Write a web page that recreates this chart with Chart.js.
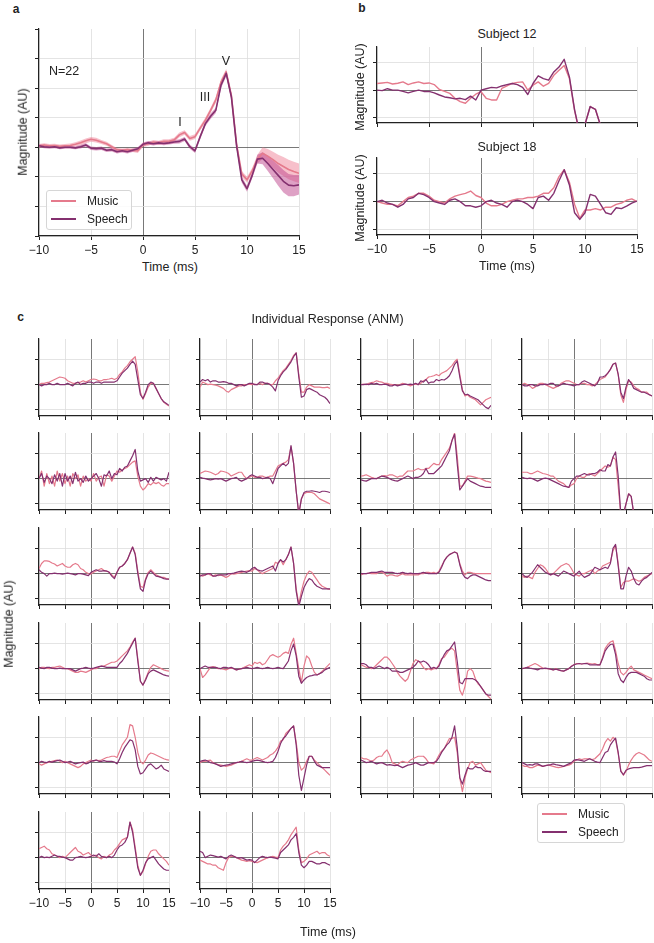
<!DOCTYPE html>
<html>
<head>
<meta charset="utf-8">
<script src="https://cdn.jsdelivr.net/npm/chart.js@4.4.0/dist/chart.umd.min.js"></script>
<style>
  body { margin: 0; background: #fff; }
  #fig { position: relative; width: 654px; height: 943px; overflow: hidden;
         font-family: "Liberation Sans", Arial, sans-serif; color: #222; background: #fff; }
  #fig canvas { position: absolute; }
  .txt { position: absolute; white-space: nowrap; line-height: 1; z-index: 5; }
  .legend { position: absolute; border: 1px solid #d6d6d6; border-radius: 3px;
            background: rgba(255,255,255,0.85); z-index: 6; box-sizing: border-box; }
  .legend .ln { position: absolute; height: 1.6px; }
  .legend .lt { position: absolute; font-size: 12px; line-height: 1; transform: translateY(-50%); }
</style>
</head>
<body>
<div id="fig"></div>
<script>
// ---- data (magnitude in tick units) ----
const TIMES = [-10,-9.5,-9,-8.5,-8,-7.5,-7,-6.5,-6,-5.5,-5,-4.5,-4,-3.5,-3,-2.5,-2,-1.5,-1,-0.5,
  0,0.5,1,1.5,2,2.5,3,3.5,4,4.5,5,5.5,6,6.5,7,7.5,8,8.5,9,9.5,10,10.5,11,11.5,12,12.5,13,13.5,14,14.5,15];
const X_TICKS = [-10, -5, 0, 5, 10, 15];
const A_Y_TICKS = [-3, -2, -1, 0, 1, 2, 3, 4];
const SMALL_Y_TICKS = [-1, 0, 1];
const LEGEND_LABELS = ['Music', 'Speech'];
const SUBJECT_TITLES = ['Subject 12', 'Subject 18'];
const WAVE_LABELS = ['I', 'III', 'V'];

// panel a: grand average (N=22) with SEM
const A_MUSIC = [0.05,0.08,0.05,0.06,0.03,0.05,0.06,0.10,0.15,0.22, 0.27,0.24,0.18,0.12,0.02,-0.08,-0.10,-0.08,-0.10,-0.12,
  0.08,0.12,0.18,0.15,0.20,0.20,0.25,0.42,0.50,0.30, 0.36,0.65,0.92,1.25,1.60,2.20,2.55,1.75,0.10,-0.90,
  -1.10,-0.80,-0.40,-0.20,-0.30,-0.42,-0.55,-0.65,-0.75,-0.82, -0.88];
const A_MUSIC_SEM = [0.06,0.06,0.06,0.06,0.06,0.06,0.07,0.07,0.08,0.08, 0.08,0.08,0.07,0.07,0.06,0.06,0.06,0.06,0.06,0.07,
  0.07,0.07,0.07,0.07,0.07,0.07,0.07,0.08,0.08,0.08, 0.08,0.08,0.09,0.09,0.10,0.10,0.10,0.10,0.10,0.10,
  0.10,0.10,0.15,0.20,0.24,0.27,0.30,0.32,0.33,0.33, 0.33];
const A_SPEECH = [0.05,0.02,0.00,0.02,-0.02,0.00,0.00,-0.02,0.02,0.08, -0.03,-0.05,-0.03,-0.10,-0.08,-0.15,-0.12,-0.15,-0.10,-0.05,
  0.10,0.15,0.12,0.15,0.13,0.15,0.18,0.20,0.28,0.02, -0.12,0.36,0.80,1.05,1.25,2.10,2.50,1.70,0.05,-1.10,
  -1.40,-0.95,-0.40,-0.37,-0.55,-0.75,-0.95,-1.15,-1.28,-1.30, -1.27];
const A_SPEECH_SEM = [0.05,0.05,0.05,0.05,0.05,0.05,0.05,0.05,0.06,0.06, 0.06,0.06,0.06,0.06,0.06,0.06,0.06,0.06,0.06,0.06,
  0.06,0.06,0.06,0.06,0.06,0.06,0.06,0.07,0.07,0.07, 0.07,0.08,0.08,0.09,0.09,0.10,0.10,0.10,0.10,0.10,
  0.10,0.10,0.15,0.20,0.25,0.30,0.35,0.38,0.38,0.36, 0.33];

// panel b: two example subjects
const S12_MUSIC = [0.24,0.26,0.28,0.22,0.25,0.30,0.20,0.26,0.30,0.24, 0.26,0.20,0.02,-0.05,-0.12,-0.30,-0.42,-0.48,-0.30,-0.15,
  -0.06,-0.30,-0.36,-0.36,0.06,0.15,0.24,0.28,0.30,0.00, 0.18,0.30,0.14,0.24,0.54,0.72,0.90,0.42,-0.75,-1.60,
  -1.25,-0.60,-0.70,-1.30,-1.60,-1.60,-1.60,-1.60,-1.60,-1.60, -1.60];
const S12_SPEECH = [0.00,-0.02,0.05,0.00,0.00,-0.05,-0.10,-0.05,0.00,-0.05, -0.05,-0.10,-0.18,-0.25,-0.28,-0.32,-0.30,-0.35,-0.22,-0.36,
  0.00,0.05,0.10,0.08,0.15,0.20,0.24,0.20,0.10,-0.16, 0.24,0.52,0.42,0.36,0.66,0.84,1.12,0.48,-0.72,-1.60,
  -1.25,-0.60,-0.70,-1.30,-1.60,-1.60,-1.60,-1.60,-1.60,-1.60, -1.60];
const S18_MUSIC = [0.00,-0.05,-0.10,-0.10,-0.15,0.00,0.15,0.20,0.30,0.30, 0.20,0.05,0.00,-0.05,0.10,0.20,0.25,0.30,0.38,0.22,
  0.15,-0.05,-0.15,-0.15,-0.10,0.00,0.05,0.10,0.10,0.15, 0.15,0.20,0.30,0.30,0.50,0.90,1.15,0.70,-0.10,-0.60,
  -0.30,-0.30,-0.25,-0.30,-0.20,-0.20,-0.10,-0.05,0.05,0.10, 0.00];
const S18_SPEECH = [0.00,0.05,-0.05,-0.10,-0.20,-0.10,0.10,0.15,0.30,0.25, 0.15,0.00,-0.05,-0.10,0.05,0.10,0.00,-0.15,-0.15,-0.20,
  -0.15,0.00,0.05,-0.05,-0.10,-0.20,0.00,0.05,0.00,-0.10, -0.25,0.15,0.20,0.05,0.30,0.75,1.15,0.60,-0.40,-0.64,
  -0.40,0.26,0.20,-0.10,-0.40,-0.46,-0.22,-0.25,-0.16,-0.05, 0.02];

// panel c: 22 individual responses, row by row
const C01_MUSIC = [0.00,0.05,0.05,0.08,0.10,0.15,0.20,0.25,0.30,0.28, 0.25,0.15,0.10,0.05,0.05,0.08,0.10,0.15,0.10,0.15, 0.20,0.22,0.20,0.15,0.15,0.20,0.20,0.22,0.25,0.20, 0.25,0.40,0.50,0.65,0.75,0.90,1.00,1.10,0.50,-0.30, -0.58,-0.35,-0.10,0.05,0.05,-0.15,-0.35,-0.55,-0.70,-0.78, -0.85];
const C01_SPEECH = [0.00,-0.05,0.00,0.00,0.05,0.00,0.00,0.05,0.00,0.00, 0.00,0.05,0.00,-0.05,0.05,0.10,0.00,0.05,0.05,0.10, 0.10,0.05,0.10,0.10,0.05,0.10,0.10,0.10,0.10,0.10, 0.15,0.30,0.45,0.55,0.65,0.80,0.93,0.80,0.20,-0.40, -0.55,-0.30,0.00,0.10,0.05,-0.15,-0.35,-0.55,-0.68,-0.75, -0.82];
const C02_MUSIC = [-0.10,0.10,0.05,0.00,0.02,0.00,-0.02,-0.05,-0.10,-0.15, -0.25,-0.30,-0.20,-0.15,-0.10,-0.05,-0.05,0.00,0.00,0.02, 0.00,0.02,0.00,0.05,0.00,0.05,0.05,0.00,0.00,0.15, 0.25,0.40,0.55,0.65,0.80,0.95,1.15,1.25,0.40,-0.30, -0.30,-0.10,0.00,-0.05,-0.10,-0.10,-0.10,-0.12,-0.12,-0.10, -0.15];
const C02_SPEECH = [0.10,0.20,0.15,0.20,0.10,0.15,0.15,0.10,0.10,0.12, 0.10,0.05,0.05,0.00,-0.05,0.00,0.00,-0.05,0.00,0.05, 0.05,0.00,0.00,0.10,0.10,0.05,0.05,0.00,-0.10,-0.25, 0.15,0.35,0.50,0.60,0.75,0.90,1.10,1.25,0.30,-0.50, -0.45,-0.20,-0.15,-0.20,-0.25,-0.30,-0.40,-0.45,-0.50,-0.60, -0.75];
const C03_MUSIC = [0.00,0.02,0.00,0.05,0.08,0.10,0.15,0.12,0.10,0.05, 0.05,0.02,0.00,0.00,-0.02,0.00,0.05,0.02,0.00,-0.05, 0.00,0.02,0.00,0.05,0.15,0.20,0.30,0.32,0.35,0.40, 0.35,0.45,0.50,0.55,0.65,0.75,0.90,1.00,0.40,-0.20, -0.45,-0.40,-0.50,-0.55,-0.60,-0.70,-0.80,-0.70,-0.60,-0.55, -0.50];
const C03_SPEECH = [0.00,0.00,0.02,0.00,0.05,0.02,0.05,0.00,0.00,0.02, 0.00,-0.05,-0.05,0.00,-0.05,-0.02,0.00,0.02,0.00,0.02, 0.00,0.05,0.00,0.15,0.10,0.20,0.05,0.10,0.10,0.20, 0.15,0.20,0.18,0.25,0.35,0.55,0.80,0.93,0.30,-0.25, -0.40,-0.38,-0.45,-0.50,-0.55,-0.60,-0.70,-0.80,-0.90,-0.95, -0.82];
const C04_MUSIC = [0.00,0.05,0.00,-0.05,-0.15,-0.10,0.00,0.05,0.05,0.00, -0.05,-0.10,-0.15,-0.10,-0.05,0.05,0.10,0.15,0.15,0.10, 0.05,0.00,0.00,0.05,0.05,0.00,0.00,-0.05,0.00,0.10, 0.20,0.25,0.30,0.45,0.60,0.80,0.85,0.40,-0.40,-0.70, -0.20,0.15,0.10,-0.05,-0.15,-0.20,-0.30,-0.30,-0.30,-0.40, -0.45];
const C04_SPEECH = [0.00,-0.05,-0.05,0.00,0.00,-0.05,-0.05,0.00,0.00,0.02, 0.00,0.05,0.05,-0.05,-0.05,0.00,0.05,0.02,0.00,-0.02, -0.05,0.00,0.00,0.10,0.15,0.10,0.05,0.00,-0.05,0.05, 0.30,0.30,0.35,0.45,0.60,0.80,0.85,0.40,-0.30,-0.55, -0.10,0.20,0.05,-0.15,-0.20,-0.25,-0.30,-0.30,-0.35,-0.40, -0.45];
const C05_MUSIC = [0.00,0.30,-0.30,0.20,-0.20,0.10,-0.30,0.30,-0.10,0.20, -0.20,0.10,-0.30,0.20,0.00,0.15,-0.30,0.10,-0.10,0.00, -0.10,0.20,-0.10,0.05,0.10,-0.30,0.15,0.10,-0.10,0.10, 0.30,0.25,0.35,0.40,0.45,0.55,0.65,0.70,0.10,-0.30, -0.45,-0.35,-0.20,-0.25,-0.15,-0.20,-0.15,-0.25,-0.30,-0.20, -0.20];
const C05_SPEECH = [0.00,0.20,-0.15,0.10,0.00,-0.20,0.15,-0.10,0.20,-0.30, 0.20,-0.10,0.10,-0.20,0.25,-0.10,0.00,-0.15,0.10,-0.10, 0.00,0.10,0.20,0.00,-0.30,0.15,0.10,0.30,0.00,0.20, 0.15,0.40,0.30,0.45,0.50,0.70,0.90,1.15,0.30,-0.10, -0.05,0.00,-0.15,0.05,-0.10,0.05,0.00,-0.05,0.00,-0.10, 0.25];
const C06_MUSIC = [0.20,0.25,0.30,0.28,0.25,0.20,0.15,0.20,0.30,0.28, 0.25,0.20,0.10,0.15,0.20,0.25,0.25,0.10,0.00,0.05, 0.10,0.05,0.05,0.10,0.10,0.05,0.05,0.10,0.10,0.30, 0.50,0.55,0.60,0.65,0.75,1.25,0.60,-0.50,-1.40,-0.80, -0.60,-0.55,-0.55,-0.55,-0.60,-0.70,-0.80,-0.85,-0.90,-0.95, -1.00];
const C06_SPEECH = [0.05,0.02,0.00,-0.03,-0.05,-0.03,0.00,-0.02,0.00,-0.05, -0.10,-0.05,0.00,0.02,0.05,-0.05,-0.10,-0.05,0.00,0.10, 0.15,0.10,0.05,0.05,0.00,0.02,0.05,0.00,-0.20,0.10, 0.40,0.50,0.60,0.50,0.60,1.30,0.60,-0.50,-1.40,-0.80, -0.55,-0.50,-0.50,-0.48,-0.50,-0.52,-0.55,-0.50,-0.50,-0.52, -0.55];
const C07_MUSIC = [0.10,0.12,0.15,0.10,0.05,0.02,0.00,0.05,0.10,0.12, 0.10,0.15,0.15,0.10,0.05,0.10,0.10,0.20,0.30,0.30, 0.30,0.35,0.40,0.35,0.35,0.40,0.40,0.50,0.60,0.55, 0.55,0.75,0.90,1.05,1.20,1.50,1.80,0.90,-0.30,-0.30, -0.10,0.10,0.10,0.08,0.05,0.02,0.00,-0.05,-0.10,-0.12, -0.15];
const C07_SPEECH = [-0.05,-0.08,-0.10,-0.05,0.00,0.00,0.00,0.05,0.10,0.08, 0.05,0.00,-0.05,-0.08,-0.10,-0.05,0.00,0.05,0.10,0.05, 0.00,0.05,0.05,0.10,0.20,0.40,0.20,0.20,0.20,0.30, 0.40,0.50,0.70,0.90,1.10,1.50,1.75,0.60,-0.45,-0.30, -0.15,0.00,-0.10,-0.15,-0.20,-0.25,-0.30,-0.32,-0.35,-0.35, -0.35];
const C08_MUSIC = [0.25,0.25,0.25,0.20,0.20,0.25,0.30,0.25,0.20,0.18, 0.15,0.10,0.10,0.00,-0.10,-0.15,-0.20,-0.30,-0.35,-0.25, -0.20,0.00,0.10,0.05,0.05,0.15,0.20,0.15,0.10,0.20, 0.30,0.40,0.50,0.45,0.50,0.85,0.75,-0.30,-1.40,-1.40, -1.00,-0.60,-0.70,-1.40,-1.50,-1.50,-1.50,-1.50,-1.50,-1.50, -1.50];
const C08_SPEECH = [0.05,0.02,0.00,0.02,0.00,-0.05,-0.10,-0.05,0.00,0.02, 0.00,-0.05,-0.10,-0.15,-0.20,-0.25,-0.30,-0.32,-0.35,-0.10, 0.00,0.10,0.10,0.15,0.20,0.15,0.15,0.20,0.20,0.25, 0.35,0.30,0.30,0.55,0.50,0.85,1.05,0.10,-1.40,-1.40, -1.00,-0.60,-0.70,-1.40,-1.50,-1.50,-1.50,-1.50,-1.50,-1.50, -1.50];
const C09_MUSIC = [0.20,0.40,0.50,0.50,0.48,0.42,0.38,0.30,0.35,0.40, 0.30,0.25,0.25,0.35,0.40,0.35,0.20,0.15,0.05,0.00, -0.02,0.05,0.10,0.15,0.20,0.12,0.10,0.05,-0.05,-0.15, 0.05,0.25,0.30,0.40,0.55,0.80,1.05,0.80,0.10,-0.50, -0.55,-0.20,0.05,0.15,0.05,-0.05,-0.10,-0.15,-0.15,-0.20, -0.22];
const C09_SPEECH = [0.15,0.05,0.00,-0.10,0.00,0.00,0.02,0.00,0.00,-0.02, 0.00,0.02,0.00,-0.02,-0.05,0.00,0.00,-0.02,-0.05,-0.08, 0.05,0.10,0.15,0.10,0.10,0.12,0.10,0.05,-0.10,-0.20, 0.05,0.25,0.30,0.40,0.55,0.80,1.05,0.75,0.00,-0.60, -0.70,-0.25,0.00,0.10,0.00,-0.10,-0.12,-0.15,-0.20,-0.22, -0.22];
const C10_MUSIC = [-0.05,-0.10,-0.05,0.00,-0.05,-0.10,-0.05,-0.08,-0.05,-0.10, -0.15,-0.10,0.00,-0.02,0.00,0.02,0.05,0.08,0.10,0.12, 0.10,0.20,0.15,0.05,0.00,0.05,0.10,0.15,0.20,0.45, 0.40,0.55,0.35,0.55,0.75,1.05,0.40,-0.60,-1.20,-0.70, -0.30,-0.05,0.10,0.05,-0.10,-0.25,-0.40,-0.50,-0.55,-0.60, -0.62];
const C10_SPEECH = [-0.10,-0.05,-0.05,0.00,0.00,-0.10,-0.10,-0.05,-0.05,-0.05, -0.05,0.00,0.00,0.02,0.05,0.08,0.10,0.08,0.05,0.10, 0.20,0.25,0.15,0.12,0.10,0.15,0.20,0.25,0.30,0.10, 0.40,0.55,0.45,0.55,0.75,1.05,0.40,-0.70,-1.30,-0.90, -0.55,-0.35,-0.20,-0.25,-0.40,-0.50,-0.55,-0.60,-0.60,-0.60, -0.60];
const C11_MUSIC = [-0.05,0.00,0.00,0.02,0.00,0.00,0.00,0.05,0.05,0.00, -0.10,-0.05,-0.05,-0.08,-0.10,-0.05,0.00,-0.05,-0.05,-0.05, -0.05,-0.05,-0.05,0.00,0.00,0.05,0.05,0.02,0.05,0.00, 0.10,0.30,0.50,0.65,0.75,0.80,0.85,0.80,0.40,0.10, -0.05,0.05,0.05,0.02,0.00,0.00,0.00,0.00,0.00,0.00, 0.00];
const C11_SPEECH = [0.00,0.00,0.00,0.02,0.05,0.05,0.05,0.08,0.10,0.05, 0.05,0.05,0.05,0.02,0.00,0.02,0.05,0.02,0.00,0.02, 0.00,0.00,0.00,0.02,0.05,0.02,0.00,0.00,0.00,0.00, 0.05,0.25,0.50,0.65,0.75,0.80,0.85,0.80,0.35,0.00, -0.15,-0.20,-0.10,-0.05,-0.05,-0.10,-0.15,-0.20,-0.25,-0.28, -0.28];
const C12_MUSIC = [-0.10,-0.15,-0.10,-0.15,-0.20,0.05,0.20,0.35,0.30,0.20, 0.05,-0.05,0.00,0.10,0.20,0.30,0.35,0.40,0.35,0.20, 0.00,-0.05,-0.10,0.00,0.00,0.05,0.10,0.15,0.00,0.10, 0.15,0.30,0.35,0.40,0.45,0.90,1.10,0.40,-0.55,-0.35, -0.30,-0.30,-0.25,-0.20,-0.25,-0.30,-0.25,-0.15,-0.10,-0.05, 0.00];
const C12_SPEECH = [0.00,-0.10,-0.15,-0.05,0.05,0.20,0.35,0.25,0.15,0.05, 0.00,-0.05,0.00,-0.05,-0.10,0.00,0.10,0.05,0.00,-0.05, -0.10,0.00,0.10,-0.05,-0.15,-0.10,-0.05,0.10,0.25,0.20, 0.15,0.20,0.25,0.20,0.40,1.00,1.15,0.30,-0.60,-0.60, -0.10,0.25,0.10,-0.20,-0.40,-0.45,-0.30,-0.20,-0.15,-0.05, 0.05];
const C13_MUSIC = [0.00,0.05,0.05,0.02,0.00,0.05,0.05,0.08,0.10,0.05, 0.00,0.00,-0.05,-0.10,-0.15,-0.15,-0.10,-0.12,-0.15,-0.10, -0.05,0.00,0.00,0.05,0.10,0.10,0.15,0.20,0.25,0.25, 0.30,0.40,0.50,0.60,0.70,0.85,1.05,1.20,0.40,-0.50, -0.65,-0.40,-0.15,0.05,0.15,0.10,0.05,0.00,-0.05,-0.08, -0.10];
const C13_SPEECH = [0.05,0.02,0.00,0.05,0.05,0.02,0.00,0.00,0.02,0.00, 0.00,0.00,0.00,-0.05,-0.10,-0.05,0.00,0.02,0.05,0.02, 0.00,0.02,0.05,0.08,0.10,0.08,0.05,0.05,0.05,0.05, 0.05,0.20,0.30,0.45,0.60,0.80,1.00,1.20,0.30,-0.50, -0.65,-0.45,-0.20,-0.10,-0.05,-0.10,-0.15,-0.20,-0.25,-0.28, -0.30];
const C14_MUSIC = [0.00,-0.35,-0.25,-0.10,0.05,0.08,0.05,0.00,0.00,-0.02, -0.05,0.00,0.02,0.00,-0.05,-0.02,0.00,0.05,0.10,0.15, 0.10,0.25,0.20,0.25,0.15,0.20,0.35,0.50,0.55,0.50, 0.45,0.50,0.60,0.65,0.60,0.95,1.20,0.60,0.00,-0.55, 0.10,0.50,0.40,0.10,-0.15,-0.25,-0.20,-0.10,0.00,0.10, 0.20];
const C14_SPEECH = [0.00,0.05,0.10,0.05,0.05,0.05,0.05,0.02,0.00,0.05, 0.05,0.02,0.05,0.00,-0.05,-0.02,0.00,0.02,0.05,0.02, 0.00,0.02,0.05,0.02,0.00,0.02,0.05,0.02,0.00,0.02, 0.05,0.02,0.00,0.15,0.30,0.70,0.97,0.50,-0.30,-0.58, -0.45,-0.35,-0.30,-0.28,-0.25,-0.25,-0.20,-0.15,-0.05,0.00, 0.05];
const C15_MUSIC = [0.15,0.10,0.05,0.05,0.00,0.05,0.15,0.25,0.35,0.45, 0.45,0.35,0.20,0.05,-0.15,-0.30,-0.40,-0.50,-0.40,-0.10, 0.20,0.35,0.30,0.20,0.05,-0.05,0.00,-0.05,0.00,0.00, 0.15,0.40,0.45,0.60,0.75,0.80,0.70,-0.10,-0.85,-1.05, -0.70,-0.10,0.00,-0.10,-0.40,-0.60,-0.70,-0.85,-1.00,-1.10, -1.20];
const C15_SPEECH = [0.20,0.20,0.15,0.05,0.05,0.00,0.05,0.10,0.05,0.00, 0.05,0.00,-0.10,-0.10,-0.10,-0.15,-0.15,-0.10,-0.05,0.00, 0.05,0.15,0.30,0.25,0.30,0.25,0.15,0.00,0.05,0.00, 0.10,0.35,0.55,0.70,0.75,0.90,1.05,0.30,-0.55,-0.60, -0.40,-0.40,-0.40,-0.40,-0.45,-0.55,-0.70,-0.85,-1.00,-1.05, -1.05];
const C16_MUSIC = [0.00,0.02,0.05,0.10,0.15,0.20,0.15,0.08,0.02,0.00, 0.00,-0.02,-0.05,0.00,-0.05,-0.08,-0.10,-0.05,0.00,0.10, 0.15,0.20,0.20,0.18,0.20,0.22,0.20,0.18,0.20,0.15, 0.15,0.45,0.80,0.95,1.05,1.10,0.70,0.20,-0.15,-0.25, -0.15,0.00,0.10,-0.05,-0.10,-0.15,-0.20,-0.25,-0.30,-0.35, -0.40];
const C16_SPEECH = [0.00,0.02,0.05,0.02,0.00,-0.02,-0.05,0.00,0.00,0.02, 0.00,-0.02,-0.05,-0.02,-0.05,-0.08,-0.10,-0.05,0.00,0.08, 0.15,0.18,0.20,0.18,0.20,0.20,0.15,0.15,0.15,0.15, 0.15,0.40,0.70,0.85,0.95,0.97,0.55,-0.20,-0.45,-0.55, -0.35,-0.20,-0.15,-0.15,-0.15,-0.20,-0.25,-0.30,-0.40,-0.45, -0.45];
const C17_MUSIC = [-0.05,-0.10,-0.05,0.00,0.02,0.05,0.08,0.10,0.05,0.00, 0.05,0.00,-0.05,-0.10,-0.15,-0.20,-0.15,-0.05,0.00,0.05, 0.10,0.05,0.10,0.08,0.10,0.15,0.20,0.22,0.25,0.25, 0.20,0.45,0.70,0.85,1.00,1.50,1.45,1.00,0.40,0.05, -0.05,0.10,0.30,0.38,0.35,0.30,0.25,0.20,0.15,0.12, 0.10];
const C17_SPEECH = [0.00,0.05,0.02,0.00,0.05,0.02,0.05,0.08,0.10,0.05, 0.00,0.02,0.05,0.00,-0.05,-0.02,0.00,0.02,-0.05,-0.02, 0.05,0.08,0.10,0.05,0.05,0.08,0.05,0.05,0.05,0.02, -0.05,0.15,0.40,0.60,0.75,0.90,0.85,0.50,-0.15,-0.45, -0.40,-0.25,-0.10,-0.05,-0.15,-0.25,-0.20,-0.10,-0.25,-0.30, -0.35];
const C18_MUSIC = [0.00,0.05,0.05,0.08,0.10,0.00,-0.05,-0.08,-0.10,-0.12, -0.15,-0.12,-0.10,-0.05,0.00,0.02,0.05,0.10,0.15,0.10, 0.10,0.15,0.20,0.15,0.10,0.15,0.20,0.30,0.35,0.45, 0.60,0.85,0.90,1.15,1.25,1.35,1.45,0.80,0.00,-0.30, -0.20,0.05,0.25,0.25,0.10,0.00,-0.10,-0.20,-0.30,-0.40, -0.50];
const C18_SPEECH = [0.05,0.08,0.10,0.05,0.00,-0.02,-0.05,-0.10,-0.15,-0.12, -0.10,-0.08,-0.05,-0.02,0.00,0.02,0.05,0.02,0.00,0.02, 0.05,0.08,0.10,0.08,0.05,0.02,0.00,0.02,0.05,0.20, 0.45,0.75,0.95,1.05,1.20,1.35,1.45,0.70,-0.50,-1.10, -0.60,-0.10,0.25,0.25,0.05,-0.10,-0.15,-0.20,-0.20,-0.20, -0.20];
const C19_MUSIC = [0.20,0.15,0.15,0.10,0.05,0.10,0.20,0.25,0.25,0.40, 0.50,0.30,0.00,-0.05,-0.10,0.00,0.05,0.02,0.00,0.10, 0.15,0.20,0.25,0.25,0.25,0.15,0.00,-0.02,-0.05,0.10, 0.30,0.45,0.55,0.75,0.95,0.95,1.00,0.40,-0.60,-1.15, -0.60,-0.25,0.00,0.05,-0.10,-0.05,0.00,-0.15,-0.30,-0.35, -0.40];
const C19_SPEECH = [0.10,0.05,0.00,0.02,0.05,0.00,-0.05,-0.02,0.00,-0.05, -0.10,-0.08,-0.10,-0.12,-0.10,-0.15,-0.20,-0.15,-0.10,-0.08, -0.05,0.00,-0.05,-0.10,-0.10,-0.05,0.00,0.00,0.00,0.05, 0.20,0.40,0.55,0.70,0.80,1.00,1.45,0.60,-0.60,-0.85, -0.50,-0.20,-0.25,-0.25,-0.15,-0.20,-0.20,-0.30,-0.35,-0.35, -0.35];
const C20_MUSIC = [-0.10,-0.15,-0.15,-0.20,-0.20,-0.15,-0.10,-0.12,-0.15,-0.12, -0.10,-0.12,-0.15,-0.18,-0.20,-0.18,-0.15,-0.12,-0.10,-0.05, 0.05,0.10,0.15,0.12,0.15,0.15,0.15,0.12,0.15,0.25, 0.35,0.55,0.80,0.95,0.85,1.00,0.90,0.35,-0.30,-0.50, -0.35,-0.10,0.10,0.25,0.35,0.40,0.35,0.30,0.20,0.10, 0.05];
const C20_SPEECH = [0.00,-0.05,-0.10,-0.08,-0.10,-0.05,-0.05,-0.10,-0.15,-0.12, -0.10,-0.08,-0.05,-0.08,-0.10,-0.12,-0.15,-0.10,-0.05,0.00, 0.10,0.12,0.10,0.08,0.05,0.10,0.15,0.10,0.05,0.02, 0.00,0.20,0.40,0.45,0.70,0.85,0.97,0.40,-0.35,-0.48, -0.30,-0.25,-0.22,-0.20,-0.20,-0.20,-0.18,-0.15,-0.12,-0.12, -0.12];
const C21_MUSIC = [0.35,0.40,0.45,0.35,0.30,0.15,0.10,0.05,0.00,0.05, 0.00,0.10,0.20,0.30,0.40,0.25,0.20,0.10,0.15,0.20, 0.10,0.05,0.10,0.00,-0.05,0.05,0.00,0.10,0.15,0.30, 0.40,0.55,0.70,0.75,0.80,1.40,1.10,0.40,-0.30,-0.70, -0.55,-0.25,0.05,0.25,0.30,0.30,0.15,0.05,-0.05,-0.15, -0.30];
const C21_SPEECH = [0.00,0.05,0.00,0.02,0.00,0.05,0.10,0.05,0.05,0.02, 0.00,-0.05,-0.10,-0.10,0.00,0.02,0.05,0.02,0.00,0.02, 0.05,0.10,0.05,0.15,0.05,0.02,0.00,0.05,0.00,0.10, 0.30,0.45,0.50,0.60,0.80,1.40,1.00,0.30,-0.40,-0.70, -0.50,-0.20,-0.05,0.00,0.05,-0.10,-0.25,-0.35,-0.45,-0.50, -0.50];
const C22_MUSIC = [-0.10,-0.15,-0.20,-0.25,-0.25,-0.30,-0.30,-0.40,-0.45,-0.50, -0.20,0.00,0.05,0.05,0.00,-0.05,-0.10,-0.12,-0.15,-0.12, -0.15,-0.18,-0.20,-0.15,-0.10,-0.05,0.00,0.02,0.05,0.02, 0.00,0.30,0.45,0.55,0.70,0.90,1.05,1.20,0.30,-0.20, -0.15,-0.05,0.10,0.15,0.20,0.25,0.15,0.20,0.20,0.10, 0.05];
const C22_SPEECH = [0.25,0.20,0.00,0.05,0.10,0.08,0.05,0.02,0.05,0.00, -0.05,0.05,0.10,0.05,0.00,-0.02,0.00,-0.05,-0.10,-0.08, -0.10,-0.20,-0.10,0.00,0.05,0.02,0.00,0.02,0.00,-0.02, -0.05,0.20,0.30,0.40,0.50,0.70,0.80,0.95,0.20,-0.30, -0.40,-0.30,-0.15,-0.15,-0.20,-0.25,-0.25,-0.20,-0.20,-0.25, -0.30];

const INDIVIDUALS = [
  [C01_MUSIC, C01_SPEECH], [C02_MUSIC, C02_SPEECH], [C03_MUSIC, C03_SPEECH], [C04_MUSIC, C04_SPEECH],
  [C05_MUSIC, C05_SPEECH], [C06_MUSIC, C06_SPEECH], [C07_MUSIC, C07_SPEECH], [C08_MUSIC, C08_SPEECH],
  [C09_MUSIC, C09_SPEECH], [C10_MUSIC, C10_SPEECH], [C11_MUSIC, C11_SPEECH], [C12_MUSIC, C12_SPEECH],
  [C13_MUSIC, C13_SPEECH], [C14_MUSIC, C14_SPEECH], [C15_MUSIC, C15_SPEECH], [C16_MUSIC, C16_SPEECH],
  [C17_MUSIC, C17_SPEECH], [C18_MUSIC, C18_SPEECH], [C19_MUSIC, C19_SPEECH], [C20_MUSIC, C20_SPEECH],
  [C21_MUSIC, C21_SPEECH], [C22_MUSIC, C22_SPEECH]
];

// ---- style ----
const MUSIC_COLOR = '#e57a8c';
const SPEECH_COLOR = '#84306f';
const MUSIC_BAND = 'rgba(240,130,152,0.5)';
const SPEECH_BAND = 'rgba(190,68,140,0.5)';
const GRID_LIGHT = '#dddddd';
const GRID_DARK = '#555555';
const SPINE = '#222222';
const FONT = '"Liberation Sans", Arial, sans-serif';
const PAD = { l: 30, r: 14, t: 6, b: 22 };

const fig = document.getElementById('fig');

function minusFmt(v) {
  return v < 0 ? '\u2212' + Math.abs(v) : String(v);
}

function toPoints(arr) {
  return TIMES.map((t, i) => ({ x: t, y: arr[i] }));
}

function addText(str, cx, cy, size, opt) {
  opt = opt || {};
  const d = document.createElement('div');
  d.className = 'txt';
  d.textContent = str;
  d.style.left = cx + 'px';
  d.style.top = cy + 'px';
  d.style.fontSize = size + 'px';
  if (opt.bold) d.style.fontWeight = 'bold';
  d.style.transform = 'translate(-50%,-50%)' + (opt.rotate ? ' rotate(-90deg)' : '');
  fig.appendChild(d);
}

function addLegend(left, top, w, h) {
  const box = document.createElement('div');
  box.className = 'legend';
  Object.assign(box.style, { left: left + 'px', top: top + 'px', width: w + 'px', height: h + 'px' });
  [MUSIC_COLOR, SPEECH_COLOR].forEach((c, i) => {
    const y = 9 + i * 18;
    const ln = document.createElement('div');
    ln.className = 'ln';
    Object.assign(ln.style, { left: '4px', top: y + 'px', width: '25px', background: c });
    const lt = document.createElement('div');
    lt.className = 'lt';
    lt.textContent = LEGEND_LABELS[i];
    Object.assign(lt.style, { left: '40px', top: (y + 1) + 'px' });
    box.appendChild(ln);
    box.appendChild(lt);
  });
  fig.appendChild(box);
}

// box = plot area in page pixels
function makeChart(box, yMin, yMax, yTicks, datasets, showXLabels) {
  const cv = document.createElement('canvas');
  const W = box.w + PAD.l + PAD.r, H = box.h + PAD.t + PAD.b;
  cv.width = W; cv.height = H;
  cv.style.width = W + 'px'; cv.style.height = H + 'px';
  cv.style.left = (box.x - PAD.l) + 'px';
  cv.style.top = (box.y - PAD.t) + 'px';
  fig.appendChild(cv);

  const gridColor = ctx => {
    const v = ctx.tick.value;
    if (v === 0) return GRID_DARK;
    if (v === yMax) return 'rgba(0,0,0,0)';
    return GRID_LIGHT;
  };

  new Chart(cv.getContext('2d'), {
    type: 'line',
    data: { datasets },
    options: {
      responsive: false,
      animation: false,
      events: [],
      layout: { padding: { left: 0, top: PAD.t, right: PAD.r, bottom: 0 } },
      plugins: { legend: { display: false }, tooltip: { enabled: false } },
      elements: { point: { radius: 0 }, line: { tension: 0, borderJoinStyle: 'round' } },
      scales: {
        x: {
          type: 'linear', min: -10, max: 15,
          afterBuildTicks: s => { s.ticks = X_TICKS.map(v => ({ value: v })); },
          afterFit: s => { s.height = PAD.b; },
          ticks: { display: showXLabels, padding: 3, color: '#222', maxRotation: 0, autoSkip: false,
                   font: { family: FONT, size: 12 }, callback: minusFmt },
          grid: { color: ctx => ctx.tick.value === 0 ? GRID_DARK : GRID_LIGHT, lineWidth: 0.8,
                  tickLength: 4, tickColor: SPINE, tickWidth: 1 },
          border: { color: SPINE, width: 1.2 }
        },
        y: {
          min: yMin, max: yMax,
          afterBuildTicks: s => { s.ticks = yTicks.map(v => ({ value: v })); },
          afterFit: s => { s.width = PAD.l; },
          ticks: { display: false },
          grid: { color: gridColor, lineWidth: 0.8, tickLength: 4, tickColor: SPINE, tickWidth: 1 },
          border: { color: SPINE, width: 1.2 }
        }
      }
    }
  });
}

function lineSet(arr, color, width) {
  return { data: toPoints(arr), borderColor: color, borderWidth: width, fill: false, pointRadius: 0 };
}

function bandSets(mean, sem, color, lowIndex) {
  const lo = mean.map((m, i) => m - sem[i]);
  const hi = mean.map((m, i) => m + sem[i]);
  return [
    { data: toPoints(lo), borderWidth: 0, borderColor: 'rgba(0,0,0,0)', fill: false, pointRadius: 0 },
    { data: toPoints(hi), borderWidth: 0, borderColor: 'rgba(0,0,0,0)', backgroundColor: color,
      fill: lowIndex, pointRadius: 0 }
  ];
}

// ---- panel a ----
makeChart({ x: 39, y: 29, w: 260, h: 207 }, -3, 4, A_Y_TICKS, [
  lineSet(A_SPEECH, SPEECH_COLOR, 1.6),
  lineSet(A_MUSIC, MUSIC_COLOR, 1.6),
  ...bandSets(A_SPEECH, A_SPEECH_SEM, SPEECH_BAND, 2),
  ...bandSets(A_MUSIC, A_MUSIC_SEM, MUSIC_BAND, 4)
], true);

// ---- panel b ----
makeChart({ x: 377, y: 47, w: 260, h: 76 }, -1.2, 1.57, SMALL_Y_TICKS, [
  lineSet(S12_SPEECH, SPEECH_COLOR, 1.4),
  lineSet(S12_MUSIC, MUSIC_COLOR, 1.4)
], false);
makeChart({ x: 377, y: 158, w: 260, h: 77 }, -1.2, 1.57, SMALL_Y_TICKS, [
  lineSet(S18_SPEECH, SPEECH_COLOR, 1.4),
  lineSet(S18_MUSIC, MUSIC_COLOR, 1.4)
], true);

// ---- panel c ----
const COL_X = [39, 200, 361, 522];
const ROW_Y = [339, 433, 528, 623, 717, 812];
INDIVIDUALS.forEach((pair, i) => {
  const r = Math.floor(i / 4), c = i % 4;
  makeChart({ x: COL_X[c], y: ROW_Y[r], w: 130, h: 77 }, -1.24, 1.8, SMALL_Y_TICKS, [
    lineSet(pair[1], SPEECH_COLOR, 1.2),
    lineSet(pair[0], MUSIC_COLOR, 1.2)
  ], r === 5);
});

// ---- text ----
addText('a', 16, 9, 12, { bold: true });
addText('b', 362, 8, 12, { bold: true });
addText('c', 20.5, 316.5, 12, { bold: true });

addText('N=22', 64, 71, 12.5);
addText(WAVE_LABELS[0], 180, 121.5, 12.5);
addText(WAVE_LABELS[1], 205, 96.5, 12.5);
addText(WAVE_LABELS[2], 226, 61, 12.5);
addText('Time (ms)', 170, 266.5, 12.5);
addText('Magnitude (AU)', 23, 132, 12.5, { rotate: true });
addLegend(46, 190, 86, 40);

addText(SUBJECT_TITLES[0], 507, 34, 12.5);
addText(SUBJECT_TITLES[1], 507, 146.5, 12.5);
addText('Magnitude (AU)', 360, 86.5, 12.5, { rotate: true });
addText('Magnitude (AU)', 360, 198, 12.5, { rotate: true });
addText('Time (ms)', 507, 265.5, 12.5);

addText('Individual Response (ANM)', 327.5, 319, 12.5);
addText('Magnitude (AU)', 9, 624, 12.5, { rotate: true });
addText('Time (ms)', 328, 931.5, 12.5);
addLegend(537, 803, 88, 40);
</script>
</body>
</html>
